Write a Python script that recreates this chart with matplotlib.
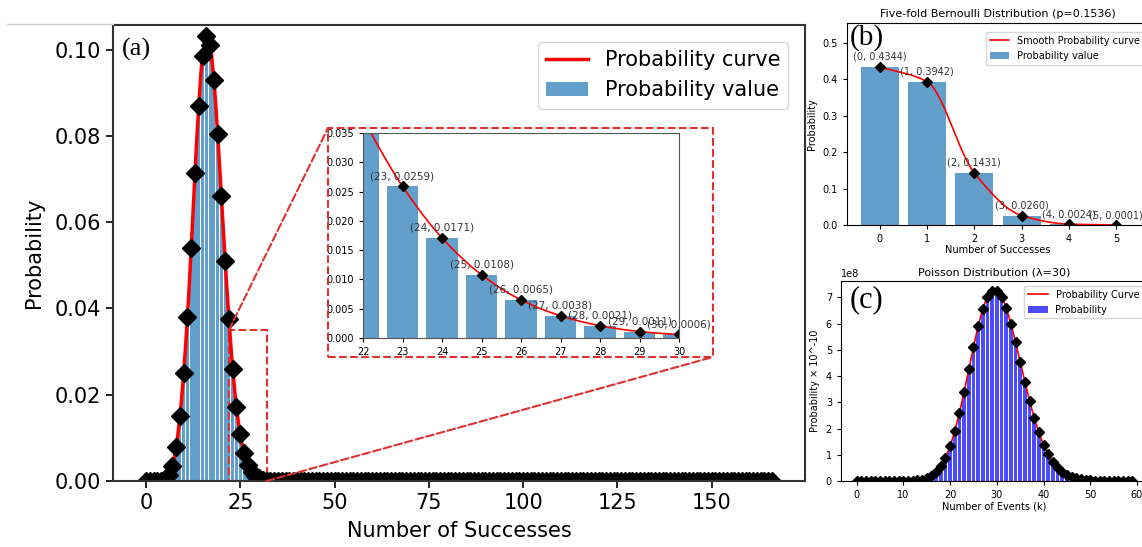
import matplotlib.pyplot as plt
import numpy as np
from matplotlib.patches import Rectangle, ConnectionPatch
from matplotlib.lines import Line2D

W, H = 1142, 547

# (a) probability of k successes, k = 0..166
succ_k = np.arange(0, 167)
succ_head = [0.0000, 0.0000, 0.0000, 0.0000, 0.0001, 0.0004, 0.0013, 0.0035,
             0.0078, 0.0150, 0.0250, 0.0380, 0.0540, 0.0715, 0.0870, 0.0985,
             0.1032, 0.1010, 0.0930, 0.0805, 0.0660, 0.0510, 0.0375, 0.0259,
             0.0171, 0.0108, 0.0065, 0.0038, 0.0021, 0.0011, 0.0006, 0.0003,
             0.0001]
succ_tail = [0.0] * 134   # k = 33..166 lie flat on the axis
succ_p = np.array(succ_head + succ_tail)
zoom_k = [23, 24, 25, 26, 27, 28, 29, 30]

# (b) five-fold Bernoulli
bern_k = [0, 1, 2, 3, 4, 5]
bern_p = [0.4344, 0.3942, 0.1431, 0.0260, 0.0024, 0.0001]

# (c) Poisson, lambda = 30, values in units of 1e8
pois_k = np.arange(0, 60)
pois_p = [0.00, 0.00, 0.00, 0.00, 0.00, 0.00, 0.00, 0.00, 0.00, 0.00,
          0.00, 0.00, 0.01, 0.02, 0.05, 0.10, 0.19, 0.34, 0.57, 0.89,
          1.34, 1.92, 2.61, 3.41, 4.26, 5.11, 5.90, 6.55, 7.02, 7.26,
          7.26, 7.03, 6.59, 5.99, 5.29, 4.53, 3.78, 3.06, 2.42, 1.86,
          1.39, 1.02, 0.73, 0.51, 0.35, 0.23, 0.15, 0.10, 0.06, 0.04,
          0.02, 0.01, 0.00, 0.00, 0.00, 0.00, 0.00, 0.00, 0.00, 0.00]


def smooth(x, y, n=20):
    # monotone cubic (pchip) through the points, for drawing only
    x = np.asarray(x, float)
    y = np.asarray(y, float)
    h = np.diff(x)
    d = np.diff(y) / h
    m = np.zeros_like(y)
    for i in range(1, len(y) - 1):
        if d[i - 1] * d[i] > 0:
            w1 = 2 * h[i] + h[i - 1]
            w2 = h[i] + 2 * h[i - 1]
            m[i] = (w1 + w2) / (w1 / d[i - 1] + w2 / d[i])
    m[0] = d[0]
    m[-1] = d[-1]
    xs, ys = [], []
    t = np.linspace(0, 1, n, endpoint=False)
    h00 = 2 * t**3 - 3 * t**2 + 1
    h10 = t**3 - 2 * t**2 + t
    h01 = -2 * t**3 + 3 * t**2
    h11 = t**3 - t**2
    for i in range(len(h)):
        xs.append(x[i] + t * h[i])
        ys.append(h00 * y[i] + h10 * h[i] * m[i] + h01 * y[i + 1] + h11 * h[i] * m[i + 1])
    xs.append([x[-1]])
    ys.append([y[-1]])
    return np.concatenate(xs), np.concatenate(ys)


def px_axes(fig, l, t, r, b):
    return fig.add_axes([l / W, 1 - b / H, (r - l) / W, (b - t) / H])


fig = plt.figure(figsize=(W / 100, H / 100), dpi=100)

# faint rule along the top of panel (a)
fig.add_artist(Line2D([7 / W, 113 / W], [1 - 24 / H, 1 - 24 / H], color='#cccccc', lw=1))

# ---- (a) main panel
ax = px_axes(fig, 113, 25, 805, 481)
ax.bar(succ_k, succ_p, width=0.8, color='C0', alpha=0.7, label='Probability value')
sx, sy = smooth(succ_k, succ_p, 8)
ax.plot(sx, sy, color='red', lw=2.5, label='Probability curve')
ax.plot(succ_k, succ_p, 'D', color='black', ms=9)
ax.set_ylim(0, 0.1057)
ax.set_xticks(range(0, 151, 25))
ax.set_xlabel('Number of Successes', fontsize=15, labelpad=6)
ax.set_ylabel('Probability', fontsize=15, labelpad=8)
ax.tick_params(labelsize=15, width=1.2, length=5)
for s in ax.spines.values():
    s.set_linewidth(1.5)
    s.set_color('#333333')
ax.legend(loc='upper right', fontsize=15, borderaxespad=0.8)

# zoom marker box inside (a)
ax.add_patch(Rectangle((22, 0), 10, 0.035, fill=False, ec='#e03030', ls='--', lw=1.5))

# ---- inset
ins = px_axes(fig, 363, 133, 679, 338)
ins.bar(succ_k, succ_p, width=0.8, color='C0', alpha=0.7)
sx, sy = smooth(succ_k[20:33], succ_p[20:33], 20)
ins.plot(sx, sy, color='red', lw=1.2)
ins.plot(succ_k, succ_p, 'D', color='black', ms=5)
for k in zoom_k:
    ins.annotate(f'({k}, {succ_p[k]:.4f})', (k, succ_p[k]), textcoords='offset points',
                 xytext=(0, 5), ha='center', fontsize=7.5, color='#333333',
                 annotation_clip=False)
ins.set_xlim(22, 30)
ins.set_ylim(0, 0.035)
ins.set_yticks(np.arange(0, 0.0351, 0.005))
ins.tick_params(labelsize=7, length=3)
for s in ins.spines.values():
    s.set_color('#555555')

frame = Rectangle((328 / W, 1 - 357 / H), 385 / W, 229 / H, transform=fig.transFigure,
                  fill=False, ec='#e03030', ls='--', lw=1.5)
fig.add_artist(frame)
for xa, xb in [((22, 0.035), (328 / W, 1 - 128 / H)), ((32, 0), (713 / W, 1 - 357 / H))]:
    con = ConnectionPatch(xyA=xa, coordsA=ax.transData, xyB=xb, coordsB=fig.transFigure,
                          color='#e03030', ls='--', lw=1.5)
    fig.add_artist(con)

# ---- (b)
bx = px_axes(fig, 847, 23, 1149, 225)
bx.bar(bern_k, bern_p, width=0.8, color='C0', alpha=0.7, label='Probability value')
sx, sy = smooth(bern_k, bern_p, 30)
bx.plot(sx, sy, color='red', lw=1.2, label='Smooth Probability curve')
bx.plot(bern_k, bern_p, 'D', color='black', ms=5)
for k, p in zip(bern_k, bern_p):
    bx.annotate(f'({k}, {p:.4f})', (k, p), textcoords='offset points', xytext=(0, 5),
                ha='center', fontsize=7, color='#333333', annotation_clip=False)
bx.set_ylim(0, 0.555)
bx.set_title('Five-fold Bernoulli Distribution (p=0.1536)', fontsize=8, pad=4)
bx.set_xlabel('Number of Successes', fontsize=7, labelpad=1)
bx.set_ylabel('Probability', fontsize=7)
bx.tick_params(labelsize=7, length=3)
bx.legend(loc='upper right', fontsize=7, bbox_to_anchor=(1.0, 0.98))

# ---- (c)
cx = px_axes(fig, 841, 281, 1148, 481)
cx.bar(pois_k, np.array(pois_p) * 1e8, width=0.8, color='blue', alpha=0.7, label='Probability')
sx, sy = smooth(pois_k, np.array(pois_p) * 1e8, 8)
cx.plot(sx, sy, color='red', lw=1.2, label='Probability Curve')
cx.plot(pois_k, np.array(pois_p) * 1e8, 'D', color='black', ms=5)
cx.set_xticks(range(0, 61, 10))
cx.set_title('Poisson Distribution (\u03bb=30)', fontsize=8, pad=4)
cx.set_xlabel('Number of Events (k)', fontsize=7, labelpad=1)
cx.set_ylabel('Probability \u00d7 10^-10', fontsize=7)
cx.tick_params(labelsize=7, length=3)
cx.yaxis.get_offset_text().set_fontsize(7)
cx.legend(loc='upper right', fontsize=7)

# panel letters
fig.text(122 / W, 1 - 49 / H, '(a)', family='Liberation Serif', fontsize=19, va='center')
fig.text(850 / W, 1 - 38 / H, '(b)', family='Liberation Serif', fontsize=21, va='center')
fig.text(850 / W, 1 - 300 / H, '(c)', family='Liberation Serif', fontsize=22, va='center')

fig.savefig('out.png', dpi=100)
